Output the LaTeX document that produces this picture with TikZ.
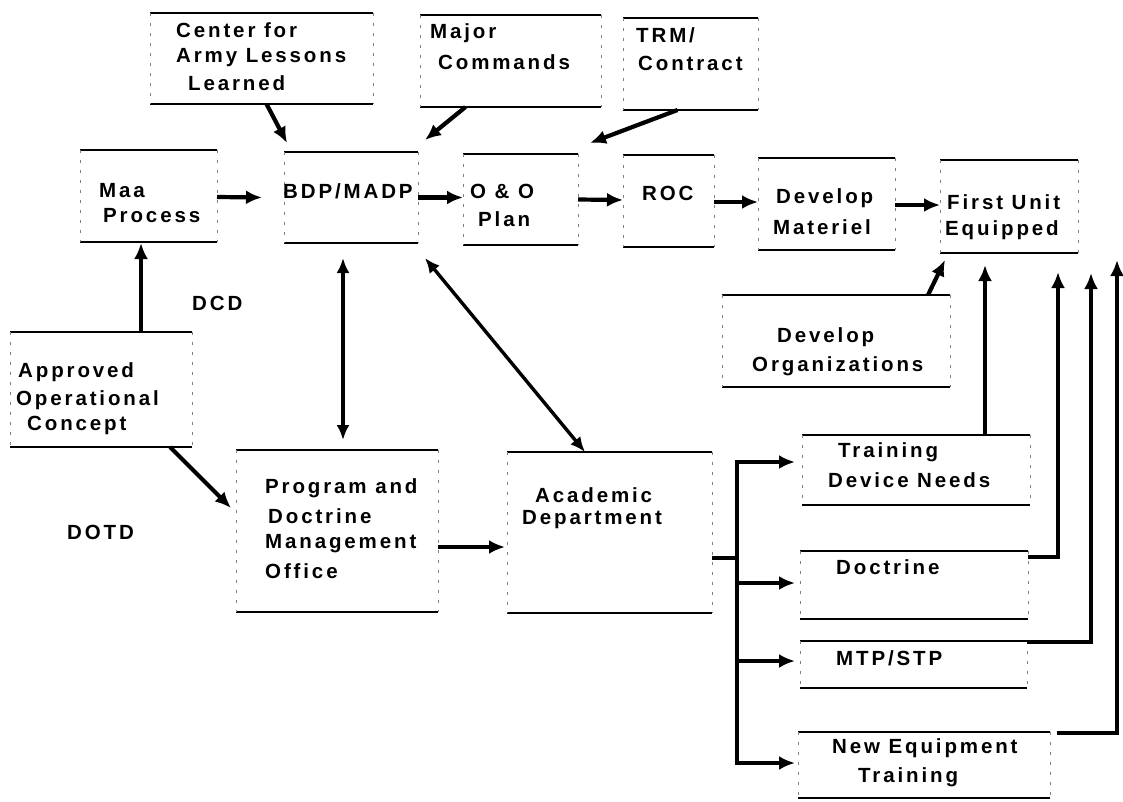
\documentclass[tikz,border=0pt]{standalone}
\usepackage{fontspec}
\setmainfont{Liberation Sans}[LetterSpace=14]
\usetikzlibrary{arrows.meta,fit,calc}

\tikzset{
  area/.style={inner sep=0pt, outer sep=0pt},
  rule/.style={line width=1.8pt, black},
  side/.style={line width=0.6pt, gray, dash pattern=on 3pt off 7pt},
  lbl/.style={anchor=west, inner sep=0pt, font=\fontsize{20.5}{22}\selectfont\bfseries},
  arr/.style={line width=4.2pt, -{Latex[length=16pt,width=14pt]}},
  arrs/.style={line width=3.4pt, {Latex[length=15pt,width=13pt]}-{Latex[length=15pt,width=13pt]}},
  feed/.style={line width=4.4pt, -{Latex[length=16pt,width=14pt]}},
  wire/.style={line width=4.4pt}
}

% a box with solid top and bottom rules and faint dashed sides
\newcommand\panel[5]{%
  \coordinate (#1-a) at (#2,#3);
  \coordinate (#1-b) at (#4,#5);
  \node[area, fit=(#1-a)(#1-b)] (#1) {};
  \draw[rule] (#1.north west) -- (#1.north east);
  \draw[rule] (#1.south west) -- (#1.south east);
  \draw[side] (#1.north west) -- (#1.south west);
  \draw[side] (#1.north east) -- (#1.south east);
}

\begin{document}
\begin{tikzpicture}[x=1pt,y=-1pt]
\useasboundingbox (0,0) rectangle (1123,801);

% boxes
\panel{call}{150}{13}{373}{104}
\panel{maj}{420}{15}{601}{107}
\panel{trm}{623}{18}{758}{110}
\panel{maa}{80}{150}{217}{242}
\panel{bdp}{284}{152}{418}{243}
\panel{oo}{463}{154}{578}{245}
\panel{roc}{623}{155}{714}{247}
\panel{dm}{758}{158}{895}{250}
\panel{fue}{940}{160}{1078}{253}
\panel{dorg}{722}{295}{950}{387}
\panel{aoc}{10}{332}{192}{447}
\panel{pdmo}{236}{450}{438}{612}
\panel{acad}{507}{452}{712}{613}
\panel{tdn}{802}{435}{1030}{505}
\panel{doc}{800}{551}{1028}{619}
\panel{mtp}{800}{641}{1027}{688}
\panel{net}{798}{732}{1050}{798}

% texts
\node[lbl] (t-call1) at (176,30) {Center for};
\node[lbl] (t-call2) at (176,58) {Army Lessons};
\node[lbl] (t-call3) at (188,83) {Learned};
\node[lbl] (t-maj1) at (430,33) {Major};
\node[lbl] (t-maj2) at (438,62) {Commands};
\node[lbl] (t-trm1) at (636,35) {TRM/};
\node[lbl] (t-trm2) at (638,63) {Contract};
\node[lbl] (t-maa1) at (99,191) {Maa};
\node[lbl] (t-maa2) at (103,216) {Process};
\node[lbl] (t-bdp) at (283,191) {BDP/MADP};
\node[lbl] (t-oo1) at (470,191) {O \& O};
\node[lbl] (t-oo2) at (478,219) {Plan};
\node[lbl] (t-roc) at (642,193) {ROC};
\node[lbl] (t-dm1) at (776,198) {Develop};
\node[lbl] (t-dm2) at (773,227) {Materiel};
\node[lbl] (t-fue1) at (947,202) {First Unit};
\node[lbl] (t-fue2) at (945,230) {Equipped};
\node[lbl] (t-dorg1) at (777,337) {Develop};
\node[lbl] (t-dorg2) at (752,366) {Organizations};
\node[lbl] (t-aoc1) at (18,372) {Approved};
\node[lbl] (t-aoc2) at (16,400) {Operational};
\node[lbl] (t-aoc3) at (27,425) {Concept};
\node[lbl] (t-dcd) at (192,303) {DCD};
\node[lbl] (t-dotd) at (67,532) {DOTD};
\node[lbl] (t-pd1) at (265,488) {Program and};
\node[lbl] (t-pd2) at (268,516) {Doctrine};
\node[lbl] (t-pd3) at (265,544) {Management};
\node[lbl] (t-pd4) at (265,571) {Office};
\node[lbl] (t-ac1) at (535,495) {Academic};
\node[lbl] (t-ac2) at (522,520) {Department};
\node[lbl] (t-tdn1) at (838,452) {Training};
\node[lbl] (t-tdn2) at (828,480) {Device Needs};
\node[lbl] (t-doc) at (836,567) {Doctrine};
\node[lbl] (t-mtp) at (836,658) {MTP/STP};
\node[lbl] (t-net1) at (832,748) {New Equipment};
\node[lbl] (t-net2) at (858,777) {Training};

% junction points of the branch and return lines
\coordinate (j-top) at (737,462);
\coordinate (j-bot) at (737,763);
\coordinate (j-doc) at (1058,557);
\coordinate (j-mtp) at (1091,642);
\coordinate (j-net) at (1117,733);

% main chain
\draw[arr] ($(maa.east)+(0,1)$) -- ($(bdp.west)+(-22,0)$);
\draw[arr] (bdp.east) -- ($(oo.west)+(0,-2)$);
\draw[arr] (oo.east) -- ($(roc.west)+(0,-1)$);
\draw[arr] ($(roc.east)+(0,1)$) -- ($(dm.west)+(0,-2)$);
\draw[arr] ($(dm.east)+(0,1)$) -- ($(fue.west)+(0,-1.5)$);

% inputs from above
\draw[arr] ($(call.south)+(5,0)$) -- ($(bdp.north west)+(3,-9)$);
\draw[arr] ($(maj.south)+(-45,0)$) -- ($(bdp.north east)+(7,-12)$);
\draw[arr] ($(trm.south)+(-13,0)$) -- ($(oo.north east)+(12,-11)$);

% approved concept
\draw[arr] ($(aoc.north west)+(131,0)$) -- ($(maa.south west)+(61,1)$);
\draw[arr] ($(aoc.south east)+(-22,0)$) -- ($(pdmo.north west)+(-5,58)$);

% two-way links to BDP/MADP
\draw[arrs] ($(bdp.south west)+(59,15)$) -- ($(pdmo.north west)+(107,-10)$);
\draw[arrs] ($(bdp.south east)+(7,15)$) -- ($(acad.north west)+(78,0)$);

% program office to academic department
\draw[arr] ($(pdmo.east)+(0,16)$) -- ($(acad.west)+(-2,14.5)$);

% academic department branches
\draw[wire] ($(acad.east)+(0,25.5)$) -- (j-top |- 0,558);
\draw[wire] ($(j-top)+(0,-2)$) -- ($(j-bot)+(0,2)$);
\draw[arr] (j-top) -- ($(tdn.west)+(-7,-8)$);
\draw[arr] (j-top |- 0,583) -- ($(doc.west)+(-5,-2)$);
\draw[arr] (j-top |- 0,661) -- ($(mtp.west)+(-5,-3.5)$);
\draw[arr] (j-bot) -- ($(net.west)+(-3,-2)$);

% feeds into First Unit Equipped
\draw[arr] ($(dorg.north east)+(-22,0)$) -- ($(fue.south west)+(5,7)$);
\draw[feed] ($(tdn.north east)+(-45,0)$) -- ($(fue.south west)+(45,12)$);
\draw[feed] ($(doc.north east)+(0,6)$) -- (j-doc) -- (j-doc |- 0,272);
\draw[feed] ($(mtp.north east)+(0,1)$) -- (j-mtp) -- (j-mtp |- 0,273);
\draw[feed] ($(net.north east)+(7,1)$) -- (j-net) -- (j-net |- 0,260);
\end{tikzpicture}
\end{document}
